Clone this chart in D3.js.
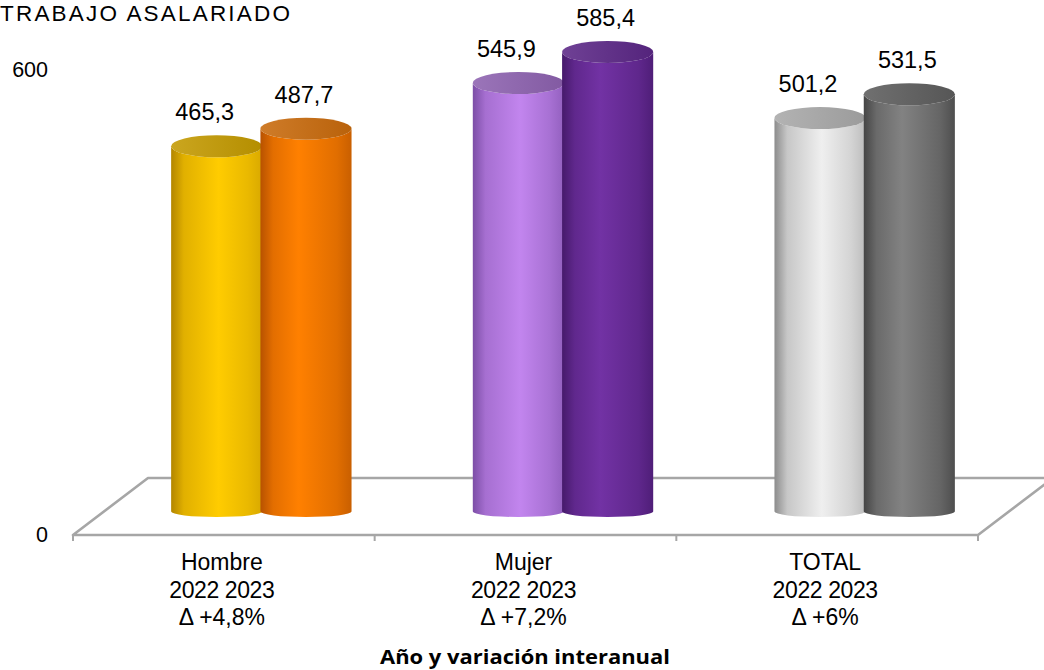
<!DOCTYPE html>
<html>
<head>
<meta charset="utf-8">
<script src="https://cdn.jsdelivr.net/npm/d3@7/dist/d3.min.js"></script>
<style>
  html, body { margin: 0; padding: 0; background: #fff; }
  svg { display: block; }
</style>
</head>
<body>
<svg id="chart" width="1044" height="670"></svg>
<script>
// ---- data ----
const categories = ["Hombre", "Mujer", "TOTAL"];
const years = ["2022", "2023"];
const values2022 = [465.3, 545.9, 501.2];
const values2023 = [487.7, 585.4, 531.5];
const variations = ["+4,8%", "+7,2%", "+6%"];
const yTickValues = [0, 600];
const chartTitle = "TRABAJO ASALARIADO";
const axisTitle = "Año y variación interanual";

// ---- palette (per category, per year): [edgeLeft, light, edgeRight, top] ----
const palette = {
  "Hombre": [["#b38600", "#ffcc00", "#d9a900", "#c49a00"], ["#b85200", "#ff8000", "#c95f00", "#c96a0c"]],
  "Mujer":  [["#7c4ea6", "#c285ee", "#9360bf", "#8d62b0"], ["#461a6b", "#7232a4", "#4f1e78", "#5b2787"]],
  "TOTAL":  [["#8c8c8c", "#efefef", "#bdbdbd", "#a9a9a9"], ["#454545", "#828282", "#4e4e4e", "#5d5d5d"]]
};

const svg = d3.select("#chart");
const defs = svg.append("defs");
const fmt = d3.formatLocale({decimal: ",", thousands: ".", grouping: [3], currency: ["", "€"]}).format(".1f");
const FONT = "Liberation Sans, Arial, sans-serif";

// geometry of the 3D floor
const floorLeft = 73, floorRight = 978, floorFrontY = 535;
const depthX = 75, depthY = -57;

// scales
const x0 = d3.scaleBand().domain(categories).range([floorLeft, floorRight]).padding(0);
const bw = x0.bandwidth();
const x1 = d3.scaleBand().domain(years).range([-bw * 0.296, bw * 0.296]).padding(0);
const yAxisScale = d3.scaleLinear().domain([0, 600]).range([floorFrontY, 70]);
const yBar = d3.scaleLinear().domain([0, 600]).range([511.5, 40.5]);

// ---- title ----
svg.append("text")
  .attr("x", 0).attr("y", 21)
  .attr("font-family", FONT)
  .attr("font-size", 22.5)
  .attr("fill", "#000")
  .attr("textLength", 290).attr("lengthAdjust", "spacing")
  .text(chartTitle);

// ---- floor ----
const floor = svg.append("g")
  .attr("fill", "none").attr("stroke", "#a6a6a6").attr("stroke-width", 2.6)
  .attr("stroke-linejoin", "round");
const fl = [
  [floorLeft, floorFrontY],
  [floorRight, floorFrontY],
  [floorRight + depthX, floorFrontY + depthY],
  [floorLeft + depthX, floorFrontY + depthY]
];
floor.append("path").attr("d", d3.line()(fl) + "Z");
const boundaries = categories.map(c => x0(c)).concat([floorRight]);
floor.selectAll("line.tick").data(boundaries).join("line")
  .attr("class", "tick")
  .attr("x1", d => d).attr("x2", d => d)
  .attr("y1", floorFrontY).attr("y2", floorFrontY + 6)
  .attr("stroke-width", 2);

// ---- y axis labels ----
const yAxis = d3.axisLeft(yAxisScale).tickValues(yTickValues).tickSize(0).tickPadding(0)
  .tickFormat(d3.format("d"));
const gy = svg.append("g").attr("transform", "translate(48,0)").call(yAxis);
gy.select(".domain").remove();
gy.selectAll("text")
  .attr("font-family", FONT)
  .attr("font-size", 21.5).attr("fill", "#000");

// ---- gradients ----
categories.forEach((c, ci) => {
  years.forEach((yr, yi) => {
    const p = palette[c][yi];
    const g = defs.append("linearGradient").attr("id", `body-${ci}-${yi}`)
      .attr("x1", 0).attr("x2", 1).attr("y1", 0).attr("y2", 0);
    g.append("stop").attr("offset", "0%").attr("stop-color", p[0]);
    g.append("stop").attr("offset", "14%").attr("stop-color", d3.interpolateRgb(p[0], p[1])(0.6));
    g.append("stop").attr("offset", yi === 0 ? "52%" : "42%").attr("stop-color", p[1]);
    g.append("stop").attr("offset", "84%").attr("stop-color", d3.interpolateRgb(p[1], p[2])(0.55));
    g.append("stop").attr("offset", "100%").attr("stop-color", p[2]);
    const t = defs.append("linearGradient").attr("id", `top-${ci}-${yi}`)
      .attr("x1", 0).attr("x2", 1).attr("y1", 0).attr("y2", 0);
    t.append("stop").attr("offset", "0%").attr("stop-color", d3.interpolateRgb(p[3], "#ffffff")(0.12));
    t.append("stop").attr("offset", "100%").attr("stop-color", d3.interpolateRgb(p[3], "#000000")(0.08));
  });
});

// ---- cylinders ----
const rows = [];
years.forEach((yr, yi) => {
  categories.forEach((c, ci) => {
    const v = (yi === 0 ? values2022 : values2023)[ci];
    rows.push({c, ci, yr, yi, v});
  });
});

const rx = bw * 0.151;
const ryTop = 11, ryBot = 5.5;
const cxOf = d => x0(d.c) + bw / 2 + depthX / 2 + x1(d.yr) + x1.bandwidth() / 2;

const bars = svg.append("g");
const barG = bars.selectAll("g.bar").data(rows).join("g").attr("class", "bar");
barG.append("path")
  .attr("d", d => {
    const cx = cxOf(d), yt = yBar(d.v), yb = yBar(0);
    return `M${cx - rx},${yt} L${cx - rx},${yb} A${rx},${ryBot} 0 0 0 ${cx + rx},${yb} ` +
           `L${cx + rx},${yt} A${rx},${ryTop} 0 0 1 ${cx - rx},${yt} Z`;
  })
  .attr("fill", d => `url(#body-${d.ci}-${d.yi})`);
barG.append("ellipse")
  .attr("cx", d => cxOf(d)).attr("cy", d => yBar(d.v))
  .attr("rx", rx).attr("ry", ryTop)
  .attr("fill", d => `url(#top-${d.ci}-${d.yi})`);

// ---- value labels ----
svg.append("g").selectAll("text").data(rows).join("text")
  .attr("x", d => cxOf(d) - (d.yi === 0 ? 12 : 2))
  .attr("y", d => yBar(d.v) - ryTop - 15)
  .attr("text-anchor", "middle")
  .attr("font-family", FONT)
  .attr("font-size", 23.5).attr("fill", "#000")
  .text(d => fmt(d.v));

// ---- category labels ----
const xl = svg.append("g")
  .attr("font-family", FONT)
  .attr("font-size", 23).attr("fill", "#000").attr("text-anchor", "middle");
categories.forEach((c, ci) => {
  const cx = x0(c) + bw / 2 - 2;
  const t = xl.append("text").attr("x", cx).attr("y", 570);
  t.append("tspan").attr("x", cx).attr("dy", 0).text(c);
  t.append("tspan").attr("x", cx).attr("dy", 27.5).attr("letter-spacing", -0.4).text(years.join(" "));
  t.append("tspan").attr("x", cx).attr("dy", 27.5).text("Δ " + variations[ci]);
});

// ---- axis title ----
svg.append("text")
  .attr("x", 525).attr("y", 664)
  .attr("text-anchor", "middle")
  .attr("font-family", "Open Sans, sans-serif")
  .attr("font-weight", "bold")
  .attr("font-size", 19).attr("fill", "#000")
  .attr("textLength", 290).attr("lengthAdjust", "spacingAndGlyphs")
  .text(axisTitle);
</script>
</body>
</html>
